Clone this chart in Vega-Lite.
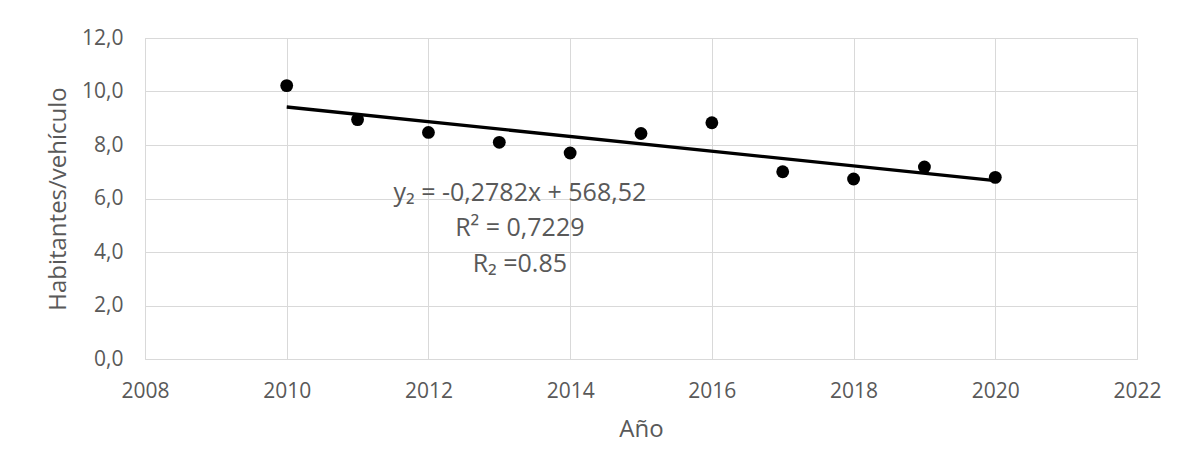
{
  "$schema": "https://vega.github.io/schema/vega-lite/v6.json",
  "width": 992,
  "height": 321,
  "autosize": {"type": "none"},
  "padding": {"left": 145, "top": 38, "right": 46, "bottom": 114},
  "background": "white",
  "config": {
    "font": "Open Sans",
    "view": {"stroke": "#d9d9d9", "strokeWidth": 1},
    "axis": {
      "domain": false,
      "ticks": false,
      "tickSize": 0,
      "labelFlush": false,
      "labelOverlap": false,
      "gridColor": "#d9d9d9",
      "gridWidth": 1,
      "labelColor": "#595959",
      "labelFont": "Open Sans",
      "labelFontSize": 21,
      "titleColor": "#595959",
      "titleFont": "Open Sans",
      "titleFontSize": 24,
      "titleFontWeight": "normal"
    }
  },
  "datasets": {
    "points": [
      {"year": 2010, "value": 10.22},
      {"year": 2011, "value": 8.95},
      {"year": 2012, "value": 8.47},
      {"year": 2013, "value": 8.10},
      {"year": 2014, "value": 7.70},
      {"year": 2015, "value": 8.43},
      {"year": 2016, "value": 8.83},
      {"year": 2017, "value": 7.00},
      {"year": 2018, "value": 6.73},
      {"year": 2019, "value": 7.18},
      {"year": 2020, "value": 6.79}
    ],
    "trend": [
      {"year": 2010, "value": 9.42},
      {"year": 2020, "value": 6.67}
    ],
    "notes": [
      {"year": 2013.29, "value": 5.89, "text": "y₂ = -0,2782x + 568,52"},
      {"year": 2013.29, "value": 4.58, "text": "R² = 0,7229"},
      {"year": 2013.29, "value": 3.27, "text": "R₂ =0.85"}
    ]
  },
  "layer": [
    {
      "data": {"name": "trend"},
      "mark": {"type": "line", "color": "black", "strokeWidth": 3.3},
      "encoding": {
        "x": {
          "field": "year", "type": "quantitative",
          "scale": {"domain": [2008, 2022], "nice": false, "zero": false},
          "axis": {"values": [2008, 2010, 2012, 2014, 2016, 2018, 2020, 2022], "format": "d", "labelPadding": 21, "title": "Año", "titlePadding": 16}
        },
        "y": {
          "field": "value", "type": "quantitative",
          "scale": {"domain": [0, 12], "nice": false},
          "axis": {"values": [0, 2, 4, 6, 8, 10, 12], "labelExpr": "replace(format(datum.value, '.1f'), '.', ',')", "labelPadding": 22, "title": "Habitantes/vehículo", "titlePadding": 11}
        }
      }
    },
    {
      "data": {"name": "points"},
      "mark": {"type": "point", "filled": true, "color": "black", "opacity": 1, "size": 165},
      "encoding": {
        "x": {"field": "year", "type": "quantitative"},
        "y": {"field": "value", "type": "quantitative"}
      }
    },
    {
      "data": {"name": "notes"},
      "mark": {"type": "text", "align": "center", "baseline": "alphabetic", "font": "Open Sans", "fontSize": 25, "color": "#595959"},
      "encoding": {
        "x": {"field": "year", "type": "quantitative"},
        "y": {"field": "value", "type": "quantitative"},
        "text": {"field": "text"}
      }
    }
  ]
}
